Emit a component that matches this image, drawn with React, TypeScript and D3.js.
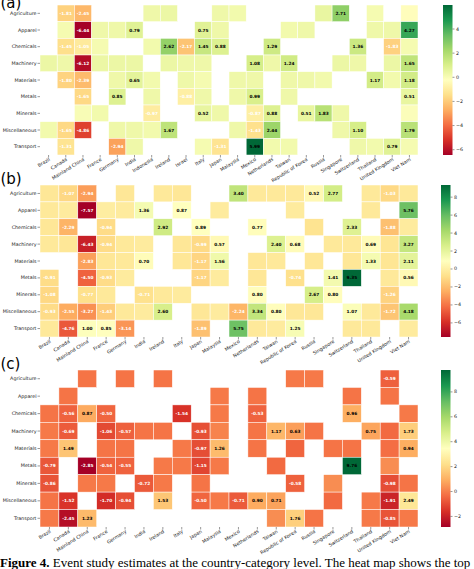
import React from "react";
import * as d3 from "d3";

const rows = ["Agriculture","Apparel","Chemicals","Machinery","Materials","Metals","Minerals","Miscellaneous","Transport"];

const colsA = ["Brazil","Canada","Mainland China","France","Germany","India","Indonesia","Ireland","Israel","Italy","Japan","Malaysia","Mexico","Netherlands","Taiwan","Republic of Korea","Russia","Singapore","Switzerland","Thailand","United Kingdom","Viet Nam"];
const colsB = ["Brazil","Canada","Mainland China","France","Germany","India","Ireland","Italy","Japan","Malaysia","Mexico","Netherlands","Taiwan","Republic of Korea","Russia","Singapore","Switzerland","Thailand","United Kingdom","Viet Nam"];
const colsC = colsB;

const _ = null;
// panel (a) values
const valsA: (number | null)[][] = [
  [_, -1.81, -2.45, _, _, _, 0.3, 0.4, _, _, 0.3, 0.2, _, _, _, _, 0.5, 2.71, _, 0.1, _, -0.3],
  [_, 0.1, -6.44, 0.3, 0.3, 0.79, _, _, _, 0.75, 0.3, _, _, _, 0.2, 0.3, _, _, _, 0.3, 0.3, 4.27],
  [_, -1.45, -1.05, 0.1, _, _, 0.2, 2.62, -2.17, 1.45, 0.88, _, _, 1.29, _, _, _, _, 1.36, _, -1.83, 0.1],
  [0.4, 0.3, -6.12, 0.4, 0.4, 0.4, _, 0.4, 0.3, 0.3, _, _, 1.08, 0.3, 1.24, _, _, 0.4, 0.3, _, 0.4, 1.65],
  [_, -1.8, -2.39, _, 0.3, 0.65, 0.2, _, 0.3, 0.1, _, 0.3, 0.3, _, 0.3, 0.3, 0.2, _, _, 1.17, 0.2, 1.18],
  [_, _, -1.65, _, 0.85, _, 0.3, _, -0.88, 0.3, _, 0.3, 0.99, _, 0.3, _, _, _, _, _, _, 0.51],
  [_, _, 0.0, 0.2, _, _, -0.97, _, _, 0.52, 0.3, _, -0.87, 0.88, _, 0.51, 1.83, 0.3, _, _, _, -0.1],
  [0.2, -1.65, -4.86, _, 0.3, 0.3, 0.2, 1.67, _, _, _, 0.3, -1.43, 2.44, _, _, _, 0.3, 1.1, _, _, 1.79],
  [_, -1.31, _, _, -2.94, 0.3, _, _, _, 0.1, -1.31, _, 5.99, 0.2, 0.2, _, _, _, 0.3, 0.2, 0.79, 0.1],
];
// panel (a) annotated (significant) cells
const annA: number[][] = [
  [0,1,1,0,0,0,0,0,0,0,0,0,0,0,0,0,0,1,0,0,0,0],
  [0,0,1,0,0,1,0,0,0,1,0,0,0,0,0,0,0,0,0,0,0,1],
  [0,1,1,0,0,0,0,1,1,1,1,0,0,1,0,0,0,0,1,0,1,0],
  [0,0,1,0,0,0,0,0,0,0,0,0,1,0,1,0,0,0,0,0,0,1],
  [0,1,1,0,0,1,0,0,0,0,0,0,0,0,0,0,0,0,0,1,0,1],
  [0,0,1,0,1,0,0,0,1,0,0,0,1,0,0,0,0,0,0,0,0,1],
  [0,0,0,0,0,0,1,0,0,1,0,0,1,1,0,1,1,0,0,0,0,0],
  [0,1,1,0,0,0,0,1,0,0,0,0,1,1,0,0,0,0,1,0,0,1],
  [0,1,0,0,1,0,0,0,0,0,1,0,1,0,0,0,0,0,0,0,1,0],
];

// panel (b)
const valsB: (number | null)[][] = [
  [-0.4, -1.07, -2.94, _, -0.4, _, -0.3, -0.4, _, _, 3.4, -0.3, -0.3, -0.3, 0.52, 2.77, _, -0.3, -1.03, -0.3],
  [-0.3, -0.2, -7.57, -0.1, -0.2, 1.36, _, 0.87, _, -0.2, _, _, _, -0.2, _, _, _, -0.3, _, 5.76],
  [-0.4, -2.29, _, -0.94, _, _, 2.92, _, 0.89, _, _, 0.77, _, _, -0.6, _, 2.33, _, -1.88, -0.2],
  [-0.3, -0.4, -6.43, -0.94, -0.3, -0.2, _, -0.4, -0.99, 0.57, _, _, 2.4, 0.68, _, -0.3, -0.3, 0.69, -0.5, 3.27],
  [_, _, -2.83, -0.4, -0.3, 0.7, _, -0.4, -1.17, 1.56, _, -0.4, -0.3, _, -0.4, _, -0.4, 1.33, -0.5, 2.11],
  [-0.91, _, -4.5, -0.93, -0.2, _, _, _, -1.17, -0.2, _, -0.4, _, -0.74, _, 1.41, 9.35, _, -0.3, 0.56],
  [-1.08, _, -0.77, -0.3, _, -0.71, -0.3, -0.2, _, _, _, 0.8, _, _, 2.67, 0.8, _, _, -1.26, _],
  [-0.93, -2.55, -3.27, -1.43, -0.3, -0.2, 2.6, _, -0.4, -0.2, -2.24, 3.34, 0.8, -0.4, -0.4, _, 1.07, -0.3, -1.72, 4.18],
  [-0.3, -4.76, 1.0, 0.85, -3.14, _, _, _, -1.89, _, 5.75, -0.3, -0.2, 1.25, _, _, -0.3, -0.3, _, -0.2],
];
const annB: number[][] = [
  [0,1,1,0,0,0,0,0,0,0,1,0,0,0,1,1,0,0,1,0],
  [0,0,1,0,0,1,0,1,0,0,0,0,0,0,0,0,0,0,0,1],
  [0,1,0,1,0,0,1,0,1,0,0,1,0,0,0,0,1,0,1,0],
  [0,0,1,1,0,0,0,0,1,1,0,0,1,1,0,0,0,1,0,1],
  [0,0,1,0,0,1,0,0,1,1,0,0,0,0,0,0,0,1,0,1],
  [1,0,1,1,0,0,0,0,1,0,0,0,0,1,0,1,1,0,0,1],
  [1,0,1,0,0,1,0,0,0,0,0,1,0,0,1,1,0,0,1,0],
  [1,1,1,1,0,0,1,0,0,0,1,1,1,0,0,0,1,0,1,1],
  [0,1,1,1,1,0,0,0,1,0,1,0,0,1,0,0,0,0,0,0],
];

// panel (c)
const valsC: (number | null)[][] = [
  [_, _, -0.2, _, -0.2, _, -0.2, _, _, _, _, _, _, -0.1, -0.1, _, _, _, -0.59, _],
  [_, -0.2, _, _, _, _, _, _, _, -0.1, _, -0.2, _, _, _, _, -0.2, _, -0.2, _],
  [-0.2, -0.56, 0.87, -0.5, _, _, _, -1.54, _, -0.1, _, -0.53, _, _, _, _, 0.96, _, _, -0.1],
  [-0.1, -0.69, _, -1.06, -0.57, -0.2, -0.2, _, -0.93, 0.1, _, -0.2, 1.17, 0.63, -0.2, _, _, 0.75, -0.4, 1.73],
  [-0.1, 1.49, _, -0.2, -0.2, _, _, -0.1, -0.97, 1.26, _, -0.2, _, -0.5, _, -0.2, -0.2, _, -0.3, 0.94],
  [-0.79, _, -2.85, -0.54, -0.55, _, -0.1, -0.1, -1.15, -0.1, _, _, -0.4, _, _, _, 9.76, _, 0.3, _],
  [-0.86, _, -0.1, -0.1, _, -0.72, -0.1, _, -0.2, _, _, _, _, -0.58, _, 0.3, _, _, -0.98, -0.2],
  [-0.2, -1.52, _, -1.7, -0.94, _, 1.53, _, -0.5, -0.1, -0.71, 0.9, 0.71, _, _, -0.4, _, -0.1, -1.91, 2.49],
  [-0.1, -2.45, 1.23, _, _, _, _, _, _, _, _, _, 0.3, 1.76, -0.2, _, _, -0.1, -0.85, -0.1],
];
const annC: number[][] = [
  [0,0,0,0,0,0,0,0,0,0,0,0,0,0,0,0,0,0,1,0],
  [0,0,0,0,0,0,0,0,0,0,0,0,0,0,0,0,0,0,0,0],
  [0,1,1,1,0,0,0,1,0,0,0,1,0,0,0,0,1,0,0,0],
  [0,1,0,1,1,0,0,0,1,0,0,0,1,1,0,0,0,1,0,1],
  [0,1,0,0,0,0,0,0,1,1,0,0,0,0,0,0,0,0,0,1],
  [1,0,1,1,1,0,0,0,1,0,0,0,0,0,0,0,1,0,0,0],
  [1,0,0,0,0,1,0,0,0,0,0,0,0,1,0,0,0,0,1,0],
  [0,1,0,1,1,0,1,0,1,0,1,1,1,0,0,0,0,0,1,1],
  [0,1,1,0,0,0,0,0,0,0,0,0,0,1,0,0,0,0,1,0],
];

const panelLabels = ["(a)", "(b)", "(c)"];
const caption = "Event study estimates at the country-category level. The heat map shows the top";

const RDYLGN = ["#a50026","#d73027","#f46d43","#fdae61","#fee08b","#ffffbf","#d9ef8b","#a6d96a","#66bd63","#1a9850","#006837"];

const FONT = "DejaVu Sans, sans-serif";

type PanelDef = {
  cols: string[];
  vals: (number | null)[][];
  ann: number[][];
  label: string;
  top: number;
  bottom: number;
  cbX: number;
  labelY: number;
};

const panels: PanelDef[] = [
  { cols: colsA, vals: valsA, ann: annA, label: panelLabels[0], top: 5, bottom: 155, cbX: 443, labelY: 7.5 },
  { cols: colsB, vals: valsB, ann: annB, label: panelLabels[1], top: 185, bottom: 337, cbX: 441, labelY: 183.5 },
  { cols: colsC, vals: valsC, ann: annC, label: panelLabels[2], top: 370, bottom: 527, cbX: 441, labelY: 368.5 },
];

const X0 = 40;
const X1 = 418;
const CBW = 9.5;

function Panel({ p, idx }: { p: PanelDef; idx: number }) {
  const flat = p.vals.flat().filter((v) => v !== null) as number[];
  const vmin = d3.min(flat)!;
  const vmax = d3.max(flat)!;
  const stops = RDYLGN.map((_c, i) => vmin + (i / (RDYLGN.length - 1)) * (vmax - vmin));
  const color = d3.scaleLinear<string>().domain(stops).range(RDYLGN).interpolate(d3.interpolateRgb).clamp(true);
  const x = d3.scaleBand<string>().domain(p.cols).range([X0, X1]).padding(0);
  const y = d3.scaleBand<string>().domain(rows).range([p.top, p.bottom]).padding(0);
  const cb = d3.scaleLinear().domain([vmin, vmax]).range([p.bottom, p.top]);
  const ticks = d3.range(Math.ceil(vmin / 2) * 2, vmax + 1e-9, 2);
  const gid = `cbgrad${idx}`;
  return (
    <g>
      <defs>
        <linearGradient id={gid} x1="0" y1="1" x2="0" y2="0">
          {RDYLGN.map((c, i) => (
            <stop key={i} offset={i / (RDYLGN.length - 1)} stopColor={c} />
          ))}
        </linearGradient>
      </defs>
      <text x={0.5} y={p.labelY} fontFamily={FONT} fontSize={15}>{p.label}</text>
      {p.vals.map((row, ri) =>
        row.map((v, ci) =>
          v === null ? null : (
            <rect
              key={`${ri}-${ci}`}
              x={x(p.cols[ci])}
              y={y(rows[ri])}
              width={x.bandwidth()}
              height={y.bandwidth()}
              fill={color(v)}
              stroke="#ffffff"
              strokeWidth={0.5}
            />
          )
        )
      )}
      {p.vals.map((row, ri) =>
        row.map((v, ci) =>
          v === null || !p.ann[ri][ci] ? null : (
            <text
              key={`t${ri}-${ci}`}
              x={x(p.cols[ci])! + x.bandwidth() / 2}
              y={y(rows[ri])! + y.bandwidth() / 2}
              textAnchor="middle"
              dominantBaseline="central"
              fontFamily={FONT}
              fontWeight="bold"
              fontSize={4.3}
              fill={v < 0 ? "#ffffff" : "#000000"}
            >
              {v.toFixed(2)}
            </text>
          )
        )
      )}
      {rows.map((r) => {
        const cy = y(r)! + y.bandwidth() / 2;
        return (
          <g key={r}>
            <line x1={X0 - 2.5} x2={X0} y1={cy} y2={cy} stroke="#333" strokeWidth={0.5} />
            <text x={X0 - 3.5} y={cy} textAnchor="end" dominantBaseline="central" fontFamily={FONT} fontSize={4.8} fill="#222">
              {r}
            </text>
          </g>
        );
      })}
      {p.cols.map((c) => {
        const cx = x(c)! + x.bandwidth() / 2;
        const ty = p.bottom + 4;
        return (
          <g key={c}>
            <line x1={cx} x2={cx} y1={p.bottom} y2={p.bottom + 2.5} stroke="#333" strokeWidth={0.5} />
            <text
              transform={`translate(${cx + 1},${ty}) rotate(-32)`}
              textAnchor="end"
              dominantBaseline="central"
              fontFamily={FONT}
              fontSize={4.8}
              fill="#222"
            >
              {c}
            </text>
          </g>
        );
      })}
      <rect x={p.cbX} y={p.top} width={CBW} height={p.bottom - p.top} fill={`url(#${gid})`} />
      {ticks.map((t) => (
        <g key={t}>
          <line x1={p.cbX + CBW} x2={p.cbX + CBW + 2} y1={cb(t)} y2={cb(t)} stroke="#333" strokeWidth={0.5} />
          <text x={p.cbX + CBW + 3.5} y={cb(t)} dominantBaseline="central" fontFamily={FONT} fontSize={4.8} fill="#222">
            {t < 0 ? `\u2212${Math.abs(t)}` : `${t}`}
          </text>
        </g>
      ))}
    </g>
  );
}

export default function App() {
  return (
    <div style={{ position: "absolute", left: 0, top: 0, width: 474, height: 569, overflow: "hidden", background: "#fff" }}>
      <svg width={474} height={569} style={{ display: "block" }}>
        <rect x={0} y={0} width={474} height={569} fill="#fff" />
        {panels.map((p, i) => (
          <Panel key={i} p={p} idx={i} />
        ))}
        <text x={0} y={567} fontFamily="Liberation Serif, Times New Roman, serif" fontSize={13} fill="#000">
          <tspan fontWeight="bold">Figure 4. </tspan>
          <tspan>{caption}</tspan>
        </text>
      </svg>
    </div>
  );
}
